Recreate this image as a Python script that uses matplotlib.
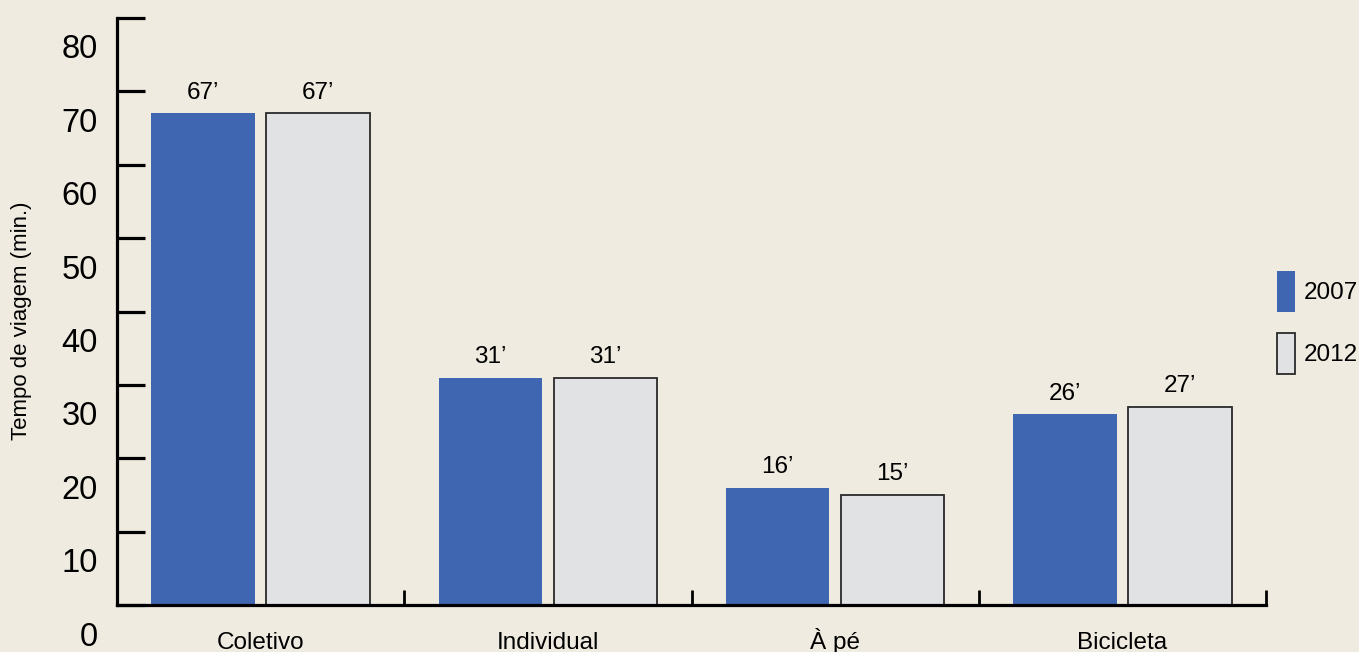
import matplotlib
matplotlib.use("Agg")
import matplotlib.pyplot as plt
from matplotlib.patches import Patch
from matplotlib.transforms import ScaledTranslation

plt.rcParams['font.family'] = ['Liberation Sans', 'DejaVu Sans']

categories = ["Coletivo", "Individual", "À pé", "Bicicleta"]
series_names = ["2007", "2012"]
values_2007 = [67, 31, 16, 26]
values_2012 = [67, 31, 15, 27]
yticks = [0, 10, 20, 30, 40, 50, 60, 70, 80]

bg = "#EFEBE0"
blue = "#3F66B0"
gray = "#E1E2E3"

fig = plt.figure(figsize=(13.59, 6.52), dpi=100, facecolor=bg)
ax = fig.add_axes([117/1359, 47/652, 1149/1359, 587/652])
ax.set_facecolor(bg)

x = list(range(len(categories)))
w = 0.36
off = 0.2
b1 = ax.bar([i - off for i in x], values_2007, width=w, color=blue, edgecolor='none', zorder=3)
b2 = ax.bar([i + off for i in x], values_2012, width=w, color=gray, edgecolor='#2a2a2a', linewidth=1.3, zorder=3)

for bars, vals in ((b1, values_2007), (b2, values_2012)):
    for r, v in zip(bars, vals):
        ax.annotate(f"{v}\u2019", (r.get_x() + r.get_width()/2, v), xytext=(0, 7),
                    textcoords='offset points', ha='center', va='bottom', fontsize=17.5)

ax.set_xlim(-0.5, 3.5)
ax.set_ylim(0, 80)

for s in ('top', 'right'):
    ax.spines[s].set_visible(False)
for s in ('left', 'bottom'):
    ax.spines[s].set_linewidth(2.3)
    ax.spines[s].set_color('black')
    ax.spines[s].set_zorder(4)

# y ticks
ax.set_yticks(yticks)
ax.set_yticklabels([str(t) for t in yticks])
ax.tick_params(axis='y', direction='in', length=20, width=2.3, pad=14, labelsize=23.5)
for lab in ax.get_yticklabels():
    lab.set_transform(lab.get_transform() + ScaledTranslation(0, -0.285, fig.dpi_scale_trans))

# x ticks: major at boundaries (no labels), minor at centers (labels)
ax.set_xticks([0.5, 1.5, 2.5, 3.5])
ax.set_xticklabels([])
ax.tick_params(axis='x', which='major', direction='in', length=11, width=2.0)
ax.set_xticks(x, minor=True)
ax.set_xticklabels(categories, minor=True)
ax.tick_params(axis='x', which='minor', length=0, pad=32, labelsize=17.5)
for lab in ax.get_xticklabels(minor=True):
    lab.set_verticalalignment('baseline')

fig.text(22/1359, 1 - 321/652, "Tempo de viagem (min.)", rotation=90,
         ha='center', va='center', fontsize=16)

handles = [Patch(facecolor=blue, edgecolor='none'),
           Patch(facecolor=gray, edgecolor='#2a2a2a', linewidth=1.3)]
fig.legend(handles, series_names, loc='upper left', bbox_to_anchor=(1277/1359, 1 - 271/652),
           frameon=False, fontsize=17.5, handlelength=0.74, handleheight=2.2,
           labelspacing=0.87, handletextpad=0.38, borderpad=0, borderaxespad=0)

fig.savefig("out.png", dpi=100, facecolor=bg)
